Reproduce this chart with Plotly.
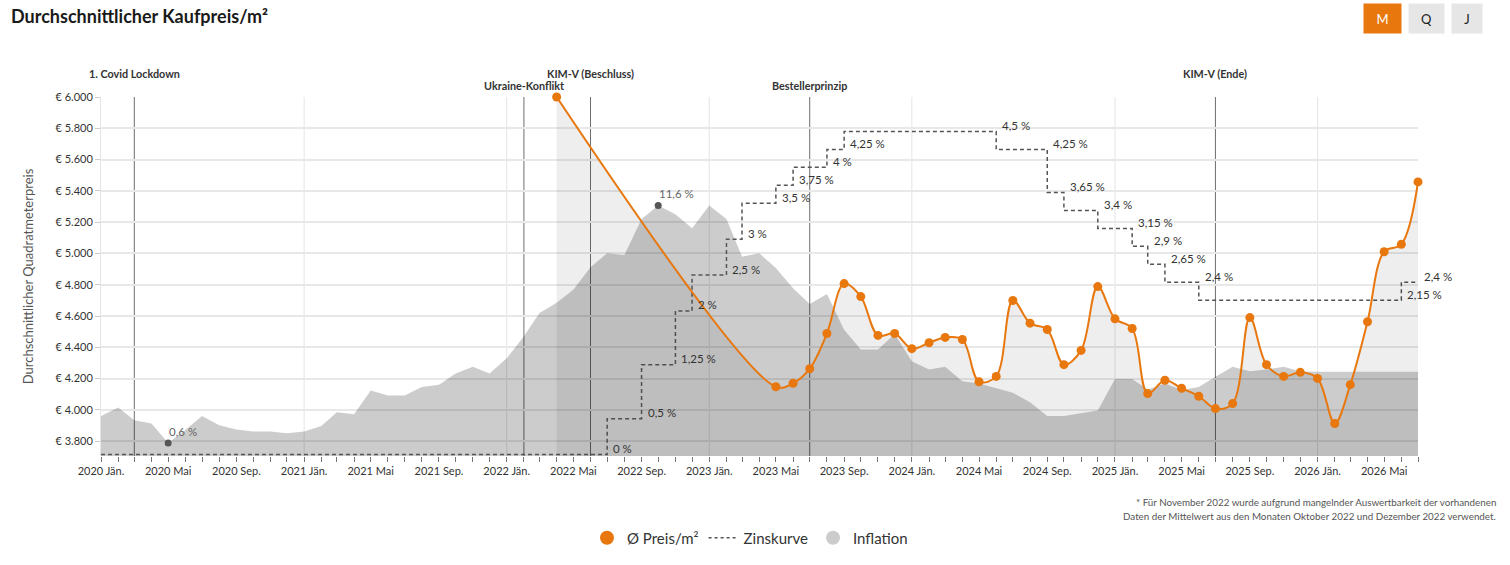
import plotly.graph_objects as go
import pandas as pd

# ---------------- data ----------------
months = pd.date_range("2020-01-01", "2026-07-01", freq="MS")

inflation = [
    1.85, 2.25, 1.66, 1.51, 0.6, 1.2, 1.85, 1.42, 1.23, 1.14, 1.13, 1.05,
    1.13, 1.39, 2.02, 1.93, 3.03, 2.8, 2.8, 3.2, 3.3, 3.82, 4.13, 3.82,
    4.52, 5.54, 6.62, 7.1, 7.7, 8.74, 9.39, 9.31, 10.97, 11.6, 11.19, 10.54,
    11.6, 10.97, 9.23, 9.39, 8.7, 7.77, 7.04, 7.5, 5.85, 4.93, 4.93, 5.65,
    4.39, 4.0, 4.13, 3.46, 3.36, 3.14, 2.93, 2.49, 1.85, 1.85, 2.0, 2.11,
    3.57, 3.57, 3.08, 3.36, 3.05, 3.2, 3.67, 4.13, 3.92, 4.0, 4.13, 3.91,
    3.9, 3.9, 3.9, 3.9, 3.9, 3.9, 3.9,
]
inflation_marked = ["2020-05-01", "2022-10-01"]

price_months = ["2022-04-01"] + list(
    pd.date_range("2023-05-01", "2026-07-01", freq="MS").strftime("%Y-%m-%d"))
price = [
    6000,
    4148, 4170, 4263, 4488, 4807, 4724, 4476, 4488,
    4391, 4429, 4463, 4450, 4180, 4214, 4699, 4554, 4514, 4289, 4380, 4788,
    4582, 4520, 4104, 4189, 4138, 4087, 4008, 4040, 4590, 4289, 4214, 4240,
    4201, 3913, 4161, 4563, 5011, 5058, 5457,
]

rate_months = [
    "2020-01-01", "2022-07-01", "2022-09-01", "2022-11-01", "2022-12-01",
    "2023-02-01", "2023-03-01", "2023-05-01", "2023-06-01", "2023-08-01",
    "2023-09-01", "2024-06-01", "2024-09-01", "2024-10-01", "2024-12-01",
    "2025-02-01", "2025-03-01", "2025-04-01", "2025-06-01", "2026-06-01",
    "2026-07-01",
]
rate = [0, 0, 0.5, 1.25, 2, 2.5, 3, 3.5, 3.75, 4, 4.25, 4.5, 4.25, 3.65,
        3.4, 3.15, 2.9, 2.65, 2.4, 2.15, 2.4]

tick_months = pd.date_range("2020-01-01", "2026-05-01", freq="4MS")
tick_labels = [
    "2020 Jän.", "2020 Mai", "2020 Sep.", "2021 Jän.", "2021 Mai", "2021 Sep.",
    "2022 Jän.", "2022 Mai", "2022 Sep.", "2023 Jän.", "2023 Mai", "2023 Sep.",
    "2024 Jän.", "2024 Mai", "2024 Sep.", "2025 Jän.", "2025 Mai", "2025 Sep.",
    "2026 Jän.", "2026 Mai",
]
price_ticks = [3800, 4000, 4200, 4400, 4600, 4800, 5000, 5200, 5400, 5600, 5800, 6000]

event_dates = ["2020-03-01", "2022-02-01", "2022-06-01", "2023-07-01", "2025-07-01"]
event_names = ["1. Covid Lockdown", "Ukraine-Konflikt", "KIM-V (Beschluss)",
               "Bestellerprinzip", "KIM-V (Ende)"]

# ---------------- styling / geometry ----------------
ORANGE = "#e8770e"
FONT = "Lato"
W, H = 1510, 565
L, R, T, B = 101, 1418, 97, 457


def fx(px):
    return (px - L) / (R - L)


def fy(py):
    return (B - py) / (B - T)


def pct(v):
    return f"{v:g}".replace(".", ",") + " %"


fig = go.Figure()

# inflation area (main y axis)
fig.add_trace(go.Scatter(
    x=months, y=inflation, mode="lines", line=dict(width=0),
    fill="tozeroy", fillcolor="rgba(0,0,0,0.2)", yaxis="y",
    showlegend=False, hoverinfo="skip"))

mk_idx = [list(months.strftime("%Y-%m-%d")).index(d) for d in inflation_marked]
fig.add_trace(go.Scatter(
    x=[months[i] for i in mk_idx], y=[inflation[i] for i in mk_idx],
    mode="markers", marker=dict(color="#555555", size=7), yaxis="y",
    cliponaxis=False, showlegend=False, hoverinfo="skip"))

# interest rate step line
fig.add_trace(go.Scatter(
    x=rate_months, y=rate, mode="lines",
    line=dict(color="#555555", width=1.5, dash="4px,3px", shape="vh"),
    yaxis="y2", showlegend=False, hoverinfo="skip"))

# price fill + line
fig.add_trace(go.Scatter(
    x=price_months, y=price, mode="lines",
    line=dict(width=0, shape="spline", smoothing=1.0),
    fill="tozeroy", fillcolor="rgba(0,0,0,0.067)", yaxis="y3",
    showlegend=False, hoverinfo="skip"))
fig.add_trace(go.Scatter(
    x=price_months, y=price, mode="lines+markers",
    line=dict(color=ORANGE, width=2, shape="spline", smoothing=1.0),
    marker=dict(color=ORANGE, size=9), yaxis="y3", cliponaxis=False,
    showlegend=False))

# legend entries
fig.add_trace(go.Scatter(x=[None], y=[None], mode="markers", name="Ø Preis/m²",
                         marker=dict(color=ORANGE, size=14), yaxis="y3"))
fig.add_trace(go.Scatter(x=[None], y=[None], mode="lines", name="Zinskurve",
                         line=dict(color="#555555", width=1.5, dash="3px,3px"),
                         yaxis="y2"))
fig.add_trace(go.Scatter(x=[None], y=[None], mode="markers", name="Inflation",
                         marker=dict(color="#cccccc", size=14), yaxis="y"))

shapes = []
# yearly vertical grid lines
for d in pd.date_range("2021-01-01", "2026-01-01", freq="YS"):
    shapes.append(dict(type="line", xref="x", yref="paper", x0=d, x1=d, y0=0, y1=1,
                       line=dict(color="#e4e4e4", width=1), layer="below"))
# event lines
for d in event_dates:
    shapes.append(dict(type="line", xref="x", yref="paper", x0=d, x1=d, y0=0, y1=1,
                       line=dict(color="#6e6e6e", width=1), layer="below"))

ann = []
second_row = ("Ukraine-Konflikt", "Bestellerprinzip")
for d, n in zip(event_dates, event_names):
    ann.append(dict(x=d, y=1, xref="x", yref="paper", text=n, showarrow=False,
                    xanchor="center", yanchor="middle",
                    yshift=11.5 if n in second_row else 23.5,
                    font=dict(family=FONT, size=10.8, color="#333333", weight="bold")))

for d, v in zip(rate_months[1:], rate[1:]):
    ann.append(dict(x=d, y=v, xref="x", yref="y2", text=pct(v), showarrow=False,
                    xanchor="left", yanchor="middle", xshift=4, yshift=6,
                    font=dict(family=FONT, size=11.5, color="#333333")))

for i in mk_idx:
    ann.append(dict(x=months[i], y=inflation[i], xref="x", yref="y", text=pct(inflation[i]),
                    showarrow=False, xanchor="left", yanchor="middle", xshift=-1, yshift=12,
                    font=dict(family=FONT, size=11.5, color="#666666")))

# buttons
for txt, cx, w, bg, fc in [("M", 1382.3, 37, ORANGE, "#ffffff"),
                           ("Q", 1426.5, 35, "#e6e6e6", "#222222"),
                           ("J", 1467.0, 30, "#e6e6e6", "#222222")]:
    ann.append(dict(x=fx(cx), y=fy(18.7), xref="paper", yref="paper", text=txt,
                    showarrow=False, xanchor="center", yanchor="middle",
                    width=w, height=29, bgcolor=bg, borderpad=0,
                    font=dict(family=FONT, size=13, color=fc)))

# footnote
for txt, py in [("* Für November 2022 wurde aufgrund mangelnder Auswertbarkeit der vorhandenen", 503.3),
                ("Daten der Mittelwert aus den Monaten Oktober 2022 und Dezember 2022 verwendet.", 516.7)]:
    ann.append(dict(x=fx(1498), y=fy(py), xref="paper", yref="paper", text=txt,
                    showarrow=False, xanchor="right", yanchor="middle",
                    font=dict(family=FONT, size=9.8, color="#555555")))

fig.update_layout(
    width=W, height=H,
    margin=dict(l=L, r=W - R, t=T, b=H - B, pad=0),
    paper_bgcolor="white", plot_bgcolor="white",
    font=dict(family=FONT, color="#333333"),
    title=dict(text="Durchschnittlicher Kaufpreis/m²", x=11 / W, xref="container",
               xanchor="left", y=1 - 16.7 / H, yref="container", yanchor="middle",
               font=dict(family=FONT, size=18, color="#1a1a1a", weight="bold")),
    xaxis=dict(type="date", range=["2020-01-01", "2026-07-01"],
               tickmode="array", tickvals=tick_months, ticktext=tick_labels,
               ticks="outside", ticklen=5, tickcolor="#777777", tickwidth=1,
               showgrid=False, zeroline=False, showline=False,
               tickfont=dict(family=FONT, size=11, color="#333333"),
               minor=dict(tickmode="linear", tick0="2020-01-01", dtick="M1",
                          ticks="outside", ticklen=5, tickcolor="#777777",
                          showgrid=False)),
    yaxis=dict(range=[0, 16.62], visible=False, fixedrange=True),
    yaxis2=dict(range=[-0.02, 4.98], overlaying="y", visible=False),
    yaxis3=dict(range=[3705, 6000], overlaying="y", side="left",
                tickmode="array", tickvals=price_ticks,
                ticktext=[f"€ {v:,}".replace(",", ".") for v in price_ticks],
                ticks="outside", ticklen=5, tickcolor="#cccccc",
                showgrid=True, gridcolor="#e8e8e8", gridwidth=1.5,
                showline=True, linecolor="#e4e4e4", linewidth=1,
                zeroline=False,
                tickfont=dict(family=FONT, size=11, color="#333333"),
                title=dict(text="Durchschnittlicher Quadratmeterpreis", standoff=18,
                           font=dict(family=FONT, size=13, color="#555555"))),
    legend=dict(orientation="h", x=fx(750), xanchor="center", y=fy(538), yanchor="middle",
                font=dict(family=FONT, size=15, color="#333333"),
                itemwidth=30, bgcolor="rgba(0,0,0,0)"),
    shapes=shapes, annotations=ann,
    hovermode=False,
)

fig.write_html("out.html", config={"displayModeBar": False},
               post_script="document.body.style.margin='0px';document.body.style.overflow='hidden';")
